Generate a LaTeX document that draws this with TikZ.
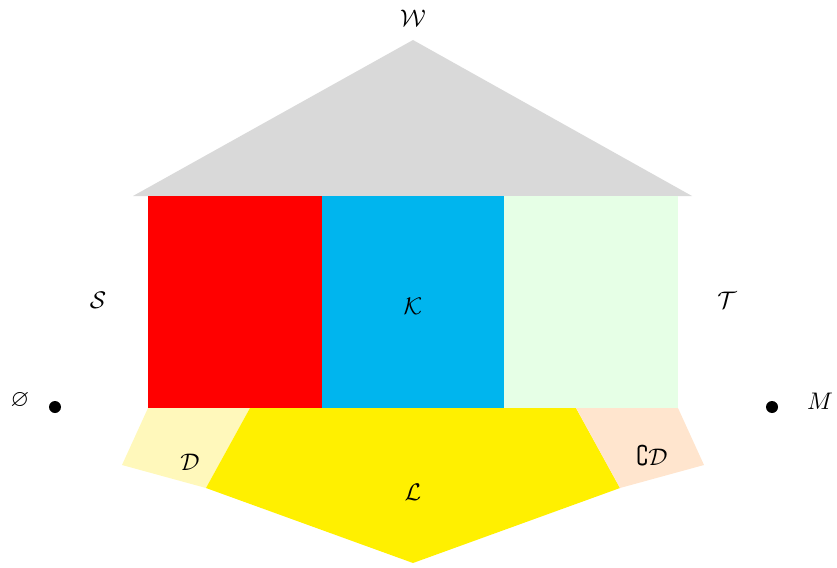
\documentclass[tikz,border=0pt]{standalone}
\usepackage{amssymb}
\definecolor{roofgray}{RGB}{217,217,217}
\definecolor{kblue}{RGB}{0,181,238}
\definecolor{tgreen}{RGB}{230,255,230}
\definecolor{dyellow}{RGB}{255,248,187}
\definecolor{lyellow}{RGB}{255,240,0}
\definecolor{cdpeach}{RGB}{255,229,206}
\tikzset{lab/.style={inner sep=0pt,scale=2.4},
  pt/.style={circle,fill=black,inner sep=0pt,minimum size=12pt}}
\begin{document}
\begin{tikzpicture}[x=1pt,y=-1pt]
\useasboundingbox (0,0) rectangle (837,567);
\fill[roofgray] (413,40) -- (692,196) -- (133,196) -- cycle;
\fill[red] (148,196) rectangle (322,408);
\fill[kblue] (322,196) rectangle (504,408);
\fill[tgreen] (504,196) rectangle (678,408);
\fill[dyellow] (148,408) -- (250,408) -- (206,488) -- (122,465) -- cycle;
\fill[lyellow] (250,408) -- (576,408) -- (620,488) -- (413,563) -- (206,488) -- cycle;
\fill[cdpeach] (576,408) -- (678,408) -- (704,465) -- (620,488) -- cycle;
\node[lab] (W) at (413,18) {$\mathcal{W}$};
\node[lab] (S) at (98,300) {$\mathcal{S}$};
\node[lab] (T) at (727,300) {$\mathcal{T}$};
\node[lab] (K) at (413,306) {$\mathcal{K}$};
\node[lab] (D) at (190,462) {$\mathcal{D}$};
\node[lab] (CD) at (652,456) {$\complement\mathcal{D}$};
\node[lab] (L) at (413,492) {$\mathcal{L}$};
\node[lab] (E) at (20,400) {$\varnothing$};
\node[lab] (M) at (820,401) {$M$};
\node[pt] (e) at (55,407) {};
\node[pt] (m) at (772,407) {};
\end{tikzpicture}
\end{document}
